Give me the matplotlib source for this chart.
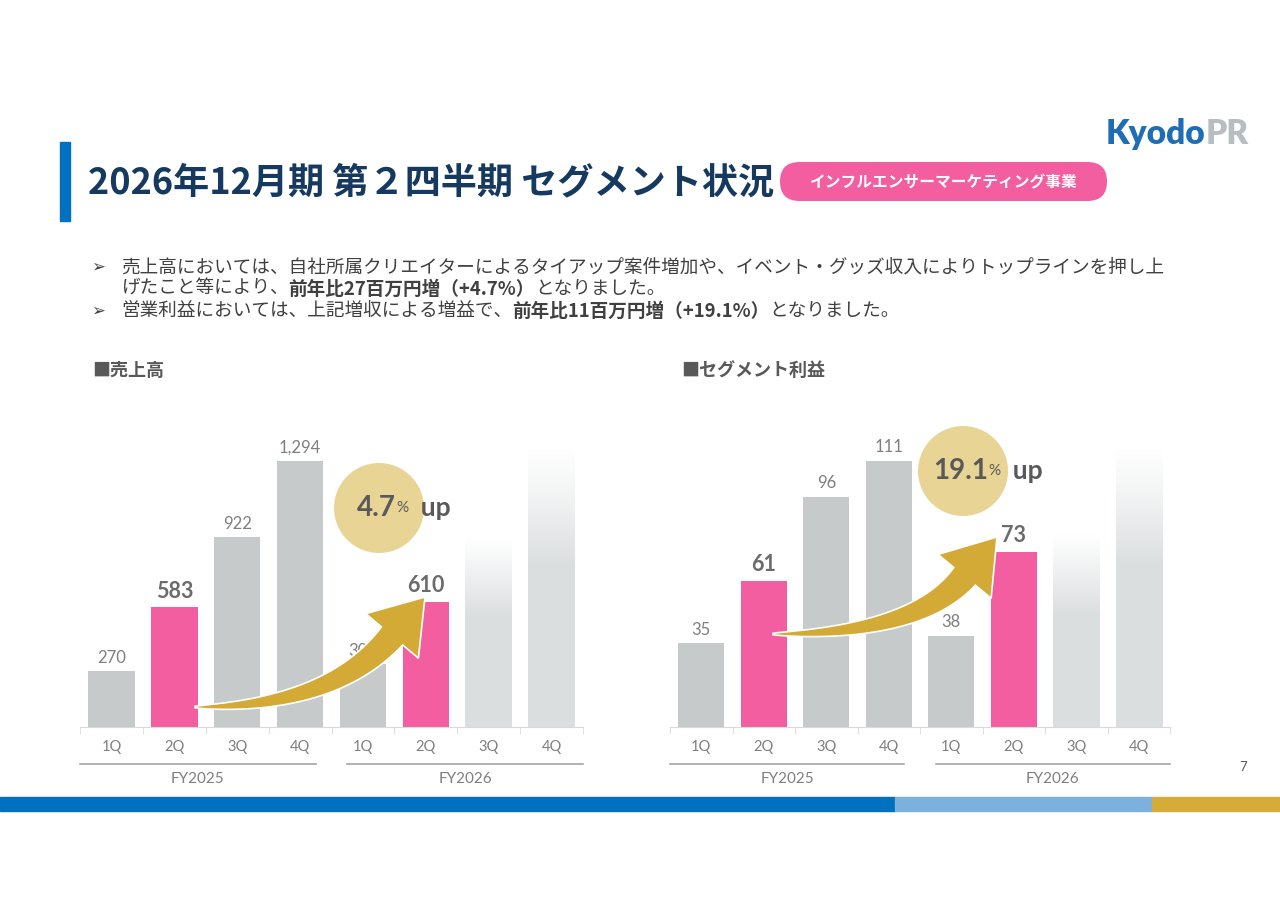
import numpy as np
import matplotlib.pyplot as plt
from matplotlib.patches import Rectangle, Circle, FancyBboxPatch, Polygon

# ---- data
quarters = ['1Q', '2Q', '3Q', '4Q', '1Q', '2Q', '3Q', '4Q']
years = ['FY2025', 'FY2026']
sales = [270, 583, 922, 1294, 306, 610]
sales_labels = ['270', '583', '922', '1,294', '306', '610']
profit = [35, 61, 96, 111, 38, 73]
profit_labels = ['35', '61', '96', '111', '38', '73']
sales_future = [925, 1357]     # faded placeholder bars FY2026 3Q/4Q
profit_future = [81, 116]
sales_growth = '4.7'
profit_growth = '19.1'
highlight = [1, 5]

JP = ['Noto Sans CJK JP', 'DejaVu Sans']
NUM = ['Lato', 'DejaVu Sans']
GRAY = '#c6cacb'
PINK = '#f25e9f'
GOLD = '#d4aa37'
LABEL = '#7f7f7f'

fig = plt.figure(figsize=(12.8, 9.05), dpi=100)
bg = fig.add_axes([0, 0, 1, 1], zorder=0)
bg.set_xlim(0, 1280); bg.set_ylim(905, 0); bg.axis('off')
top = fig.add_axes([0, 0, 1, 1], zorder=5)
top.set_xlim(0, 1280); top.set_ylim(905, 0); top.axis('off')
top.patch.set_alpha(0)
rend = fig.canvas.get_renderer()


def runs(ax, x, y, parts, **common):
    for s, kw in parts:
        kk = dict(common); kk.update(kw)
        t = ax.text(x, y, s, ha='left', va='center', **kk)
        x += t.get_window_extent(rend).width
    return x


# ---- header
bg.add_patch(Rectangle((60, 142), 10, 79, color='#0070c0'))
bg.text(88, 183, '2026年12月期 第２四半期 セグメント状況', family=JP, fontsize=26,
        fontweight='bold', color='#15395f', va='center')
bg.add_patch(FancyBboxPatch((780, 162), 327, 39, boxstyle='round,pad=0,rounding_size=19.5',
                            fc=PINK, ec='none'))
bg.text(943, 182, 'インフルエンサーマーケティング事業', family=JP, fontsize=11.3,
        fontweight='bold', color='white', ha='center', va='center')
runs(bg, 1106, 134, [('Kyodo', dict(color='#1f6db5')), ('PR', dict(color='#b8bdc1'))],
     family=NUM, fontsize=24, fontweight='heavy')

# ---- bullets
txt = dict(family=JP, fontsize=13.4, color='#404040')
for yy in (267, 311):
    bg.text(91, yy, '➢', family=['DejaVu Sans'], fontsize=12, color='#404040', va='center')
runs(bg, 121, 267, [('売上高においては、自社所属クリエイターによるタイアップ案件増加や、イベント・グッズ収入によりトップラインを押し上', {})], **txt)
runs(bg, 121, 289, [('げたこと等により、', {}), ('前年比27百万円増（+4.7%）', dict(fontweight='bold')),
                    ('となりました。', {})], **txt)
runs(bg, 121, 311, [('営業利益においては、上記増収による増益で、', {}),
                    ('前年比11百万円増（+19.1%）', dict(fontweight='bold')), ('となりました。', {})], **txt)

bg.text(92, 370, '■売上高', family=JP, fontsize=13, fontweight='bold', color='#595959', va='center')
bg.text(681, 370, '■セグメント利益', family=JP, fontsize=13, fontweight='bold', color='#595959', va='center')

# ---- footer
bg.add_patch(Rectangle((0, 797), 895, 14, color='#0070c0'))
bg.add_patch(Rectangle((895, 797), 257, 14, color='#7bb1dc'))
bg.add_patch(Rectangle((1152, 797), 128, 14, color='#d5ac38'))
bg.text(1243, 767, '7', family=NUM, fontsize=9.5, color='#595959', ha='center', va='center')


def bar_chart(rect, vals, labels, future, ymax):
    ax = fig.add_axes(rect, zorder=1)
    ax.patch.set_alpha(0)
    x = np.arange(len(vals))
    cols = [PINK if i in highlight else GRAY for i in x]
    ax.bar(x, vals, width=0.74, color=cols, zorder=2)
    # faded placeholder bars
    n = 200
    frac = np.linspace(0, 1, n)
    img = np.zeros((n, 1, 4))
    img[..., 0] = 0.86; img[..., 1] = 0.873; img[..., 2] = 0.878
    img[:, 0, 3] = np.clip(frac / 0.42, 0, 1) ** 1.1
    for j, h in enumerate(future):
        xi = len(vals) + j
        ax.imshow(img, extent=(xi - 0.37, xi + 0.37, 0, h), aspect='auto',
                  interpolation='bilinear', zorder=2)
    for i, (v, s) in enumerate(zip(vals, labels)):
        if i in highlight:
            ax.annotate(s, (i, v), xytext=(0, 4), textcoords='offset points', ha='center',
                        va='bottom', family=NUM, fontsize=15.5, fontweight='bold', color='#6b6b6b')
        else:
            ax.annotate(s, (i, v), xytext=(0, 4), textcoords='offset points', ha='center',
                        va='bottom', family=NUM, fontsize=12, color=LABEL)
    ax.set_xlim(-0.5, 7.5)
    ax.set_ylim(0, ymax)
    for sp in ('top', 'left', 'right'):
        ax.spines[sp].set_visible(False)
    ax.spines['bottom'].set_color('#d9d9d9')
    ax.set_yticks([])
    ax.set_xticks(range(8))
    ax.set_xticklabels(quarters, family=NUM, fontsize=10.5, color=LABEL)
    ax.set_xticks(np.arange(-0.5, 8, 1), minor=True)
    ax.tick_params(axis='x', which='major', length=0, pad=9)
    ax.tick_params(axis='x', which='minor', length=5, color='#d9d9d9')
    tr = ax.get_xaxis_transform()
    for (a, b), yl in zip([(-0.5, 3.25), (3.75, 7.5)], years):
        ax.plot([a, b], [-0.125, -0.125], transform=tr, color='#a6a6a6', lw=1.2, clip_on=False)
        ax.text((a + b) / 2, -0.175, yl, transform=tr, ha='center', va='center',
                family=NUM, fontsize=11, color=LABEL)
    return ax


bar_chart([80 / 1280, 178 / 905, 503 / 1280, 297 / 905], sales, sales_labels, sales_future, 1444.8)
bar_chart([670 / 1280, 178 / 905, 500 / 1280, 297 / 905], profit, profit_labels, profit_future, 123.9)


def arrow_poly(p0, tip, d, head_len=51, head_w=69, shaft_w=28):
    d = np.array(d, float); d /= np.linalg.norm(d)
    p0 = np.array(p0, float); tip = np.array(tip, float)
    m = tip - d * head_len
    s = (p0[1] - m[1]) / (-d[1])
    p1 = m - d * s
    t = np.linspace(0, 1, 80)[:, None]
    B = (1 - t) ** 2 * p0 + 2 * (1 - t) * t * p1 + t ** 2 * m
    dB = 2 * (1 - t) * (p1 - p0) + 2 * t * (m - p1)
    tan = dB / np.linalg.norm(dB, axis=1, keepdims=True)
    nrm = np.column_stack([-tan[:, 1], tan[:, 0]])
    w = shaft_w * (0.05 + 0.95 * t[:, 0] ** 0.75) / 2
    upper = B + nrm * w[:, None]
    lower = B - nrm * w[:, None]
    ne = np.array([-d[1], d[0]])
    return np.vstack([upper, [m + ne * head_w / 2, tip, m - ne * head_w / 2], lower[::-1]])


for p0, tip, d in [((195, 707), (425, 597), (33, -39)), ((773, 634), (997, 537), (33, -40))]:
    top.add_patch(Polygon(arrow_poly(p0, tip, d), closed=True, fc=GOLD, ec='white', lw=1.2))

# growth bubbles
for (cx, cy), g, x0 in [((379, 508), sales_growth, 357), ((963, 471), profit_growth, 933)]:
    top.add_patch(Circle((cx, cy), 45, fc='#e8d596', ec='none'))
    runs(top, x0, cy, [(g, dict(fontsize=20)), ('%', dict(fontsize=11, fontweight='normal')),
                       ('  up', dict(fontsize=19))],
         family=NUM, fontweight='bold', color='#595959')

fig.savefig('out.png', dpi=100)
